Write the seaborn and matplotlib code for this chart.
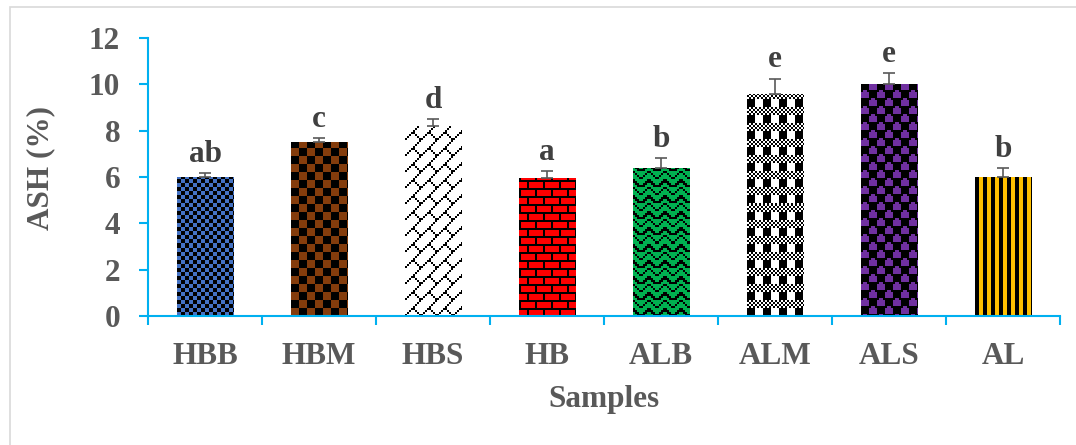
import numpy as np
import pandas as pd
import matplotlib
matplotlib.use("Agg")
import matplotlib.pyplot as plt
import seaborn as sns
from matplotlib.patches import Rectangle
from matplotlib.colors import to_rgb

# ---------------- data ----------------
samples = ["HBB", "HBM", "HBS", "HB", "ALB", "ALM", "ALS", "AL"]
ash = [6.0, 7.5, 8.2, 5.95, 6.4, 9.6, 10.0, 6.0]
ash_err = [0.17, 0.2, 0.3, 0.3, 0.4, 0.65, 0.5, 0.4]
letters = ["ab", "c", "d", "a", "b", "e", "e", "b"]
yticks = [0, 2, 4, 6, 8, 10, 12]

# ---------------- style ----------------
bar_colors = {"HBB": "#4472C4", "HBM": "#843C0C", "HBS": "#FFFFFF", "HB": "#FF0000",
              "ALB": "#00B050", "ALM": "#FFFFFF", "ALS": "#7030A0", "AL": "#FFC000"}

# 8x8 fill bitmaps (1 = black), drawn at 2x
patterns = {
    "HBB": ["11001100", "11001100", "00110011", "00110011"] * 2,
    "HBM": ["11110000"] * 4 + ["00001111"] * 4,
    "HBS": ["00000001", "00000010", "00000100", "00001000",
            "00011000", "00100100", "01000010", "10000001"],
    "HB": ["11111111", "10000000", "10000000", "10000000",
           "11111111", "00001000", "00001000", "00001000"],
    "ALB": ["10000001", "01000010", "00100100", "00011000",
            "10000001", "11000011", "01100110", "00111100"],
    "ALM": ["10101010", "01010101", "10101010", "01010101"] + ["11110000"] * 4,
    "ALS": ["00001111", "00001111", "00001111", "11111001",
            "11110000", "11110000", "11110000", "10011111"],
    "AL": ["11001100"] * 8,
}

axis_color = "#00B0F0"
text_color = "#595959"
letter_color = "#404040"
fs = 22.5

sns.set_theme(style="white")
plt.rcParams["font.family"] = ["Liberation Serif", "DejaVu Serif"]
plt.rcParams["font.weight"] = "bold"

W, H = 1076, 445
fig = plt.figure(figsize=(W / 100, H / 100), dpi=100)
fig.patch.set_facecolor("white")
ax = fig.add_axes([148 / W, 1 - 316 / H, (1060 - 148) / W, (316 - 38) / H])

df = pd.DataFrame({"Sample": samples, "ASH": ash})
sns.barplot(data=df, x="Sample", y="ASH", hue="Sample", palette=bar_colors,
            width=0.5, errorbar=None, legend=False, ax=ax, linewidth=0,
            saturation=1, order=samples, hue_order=samples)

ax.set_xlim(-0.5, len(samples) - 0.5)
ax.set_ylim(0, 12)
fig.canvas.draw()

bars = sorted([p for p in ax.patches if p.get_height() > 0], key=lambda p: p.get_x())

for p, s in zip(bars, samples):
    x0, y0 = p.get_x(), p.get_y()
    w, h = p.get_width(), p.get_height()
    (px0, py0) = ax.transData.transform((x0, y0))
    (px1, py1) = ax.transData.transform((x0 + w, y0 + h))
    nx = max(1, int(round(px1 - px0)))
    ny = max(1, int(round(py1 - py0)))
    bits = np.array([[int(c) for c in row] for row in patterns[s]])
    tile = np.kron(bits, np.ones((2, 2), dtype=int))
    big = np.tile(tile, (ny // 16 + 2, nx // 16 + 2))
    big = big[::-1][:ny, :nx][::-1]
    fg = np.array([0, 0, 0], dtype=float)
    bg = np.array(to_rgb(bar_colors[s]))
    rgb = np.where(big[..., None] == 1, fg, bg)
    im = ax.imshow(rgb, extent=(x0, x0 + w, y0, y0 + h), interpolation="nearest",
                   aspect="auto", origin="upper", zorder=p.get_zorder() + 0.1)
    im.set_clip_path(p)

centers = [p.get_x() + p.get_width() / 2 for p in bars]
ax.errorbar(centers, ash, yerr=[np.zeros(len(ash)), ash_err], fmt="none",
            ecolor=text_color, elinewidth=1.2, capsize=4.5, capthick=1.2, zorder=5)

for cx, v, e, lab in zip(centers, ash, ash_err, letters):
    ax.annotate(lab, (cx, v + e), xytext=(0, 8), textcoords="offset points",
                ha="center", va="baseline", fontsize=fs, fontweight="bold",
                color=letter_color, zorder=6)

ax.set_xlim(-0.5, len(samples) - 0.5)
ax.set_ylim(0, 12)
ax.set_aspect("auto")

# spines & ticks
for side in ["top", "right"]:
    ax.spines[side].set_visible(False)
for side in ["left", "bottom"]:
    ax.spines[side].set_color(axis_color)
    ax.spines[side].set_linewidth(1.5)

ax.set_yticks(yticks)
ax.set_yticklabels([str(t) for t in yticks])
ax.tick_params(axis="y", direction="out", length=6.5, width=1.5, color=axis_color,
               labelcolor=text_color, labelsize=fs, pad=13.5, left=True)
ax.set_xticks(range(len(samples)))
ax.set_xticklabels(samples)
ax.set_xticks(np.arange(-0.5, len(samples), 1.0), minor=True)
ax.tick_params(axis="x", which="major", length=0, labelcolor=text_color,
               labelsize=fs, pad=19)
ax.tick_params(axis="x", which="minor", direction="out", length=6.5, width=1.5,
               color=axis_color, bottom=True)
for lbl in ax.get_xticklabels() + ax.get_yticklabels():
    lbl.set_fontweight("bold")

ax.set_xlabel("Samples", fontsize=fs, fontweight="bold", color=text_color)
ax.set_ylabel("ASH (%)", fontsize=fs, fontweight="bold", color=text_color)
ax.xaxis.label.set_va("center")
ax.yaxis.label.set_va("center")
ax.xaxis.set_label_coords(0.5, (316 - 400) / 278)
ax.yaxis.set_label_coords((41 - 148) / 912, (316 - 168) / 278)
ax.grid(False)
ax.set_facecolor("white")

# outer frame
fig.patches.append(Rectangle((10 / W, -0.05), 1.0, (1 - 7 / H) + 0.05,
                             transform=fig.transFigure, fill=False,
                             edgecolor="#D9D9D9", linewidth=1.2, zorder=0))

fig.savefig("out.png", dpi=100, facecolor="white")
